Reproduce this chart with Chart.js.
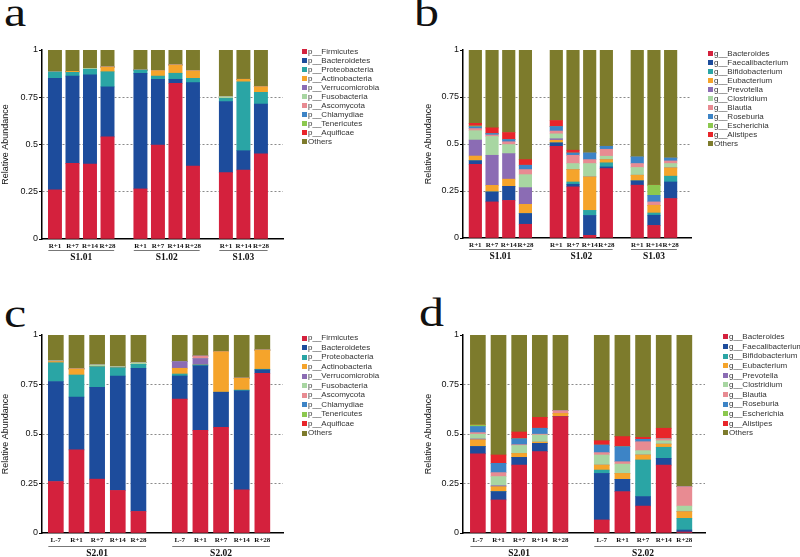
<!DOCTYPE html>
<html>
<head>
<meta charset="utf-8">
<script src="https://cdn.jsdelivr.net/npm/chart.js@4.4.1/dist/chart.umd.min.js"></script>
<style>
  body { margin: 0; background: #fff; width: 800px; height: 557px; position: relative; overflow: hidden; font-family: "Liberation Sans", Arial, sans-serif; }
  canvas { position: absolute; }
  .letter { position: absolute; font-family: "Liberation Serif", "Times New Roman", serif; font-size: 40px; line-height: 1; color: #111; transform: scaleX(1.25); transform-origin: left top; }
  .legend { position: absolute; font-size: 8px; color: #333; }
  .legend div { position: relative; white-space: nowrap; padding-left: 6px; }
  .legend span { position: absolute; left: 0; width: 5px; height: 5px; }
</style>
</head>
<body>
<div class="letter" style="left:4px;top:-7px">a</div>
<div class="letter" style="left:414px;top:-7px">b</div>
<div class="letter" style="left:4px;top:294px">c</div>
<div class="letter" style="left:419px;top:293px">d</div>
<canvas id="chartA" width="400" height="270" style="left:0;top:30px"></canvas>
<canvas id="chartB" width="377" height="270" style="left:423px;top:30px"></canvas>
<canvas id="chartC" width="400" height="247" style="left:0;top:310px"></canvas>
<canvas id="chartD" width="377" height="247" style="left:423px;top:310px"></canvas>
<script>
// sample labels and groups
const s1Groups = ["S1.01", "S1.02", "S1.03"];
const s1Samples = [["R+1", "R+7", "R+14", "R+28"], ["R+1", "R+7", "R+14", "R+28"], ["R+1", "R+14", "R+28"]];
const s2Groups = ["S2.01", "S2.02"];
const s2Samples = [["L-7", "R+1", "R+7", "R+14", "R+28"], ["L-7", "R+1", "R+7", "R+14", "R+28"]];
const yTicks = [0, 0.25, 0.5, 0.75, 1];

const phylumNames = ["p__Firmicutes", "p__Bacteroidetes", "p__Proteobacteria", "p__Actinobacteria", "p__Verrucomicrobia",
  "p__Fusobacteria", "p__Ascomycota", "p__Chlamydiae", "p__Tenericutes", "p__Aquificae", "Others"];
const genusNames = ["g__Bacteroides", "g__Faecalibacterium", "g__Bifidobacterium", "g__Eubacterium", "g__Prevotella",
  "g__Clostridium", "g__Blautia", "g__Roseburia", "g__Escherichia", "g__Alistipes", "Others"];
const taxonColors = ["#d4213d", "#1d4c9c", "#2aa5a5", "#f5a42b", "#8b6cb4", "#a8d6a2", "#e88b92", "#3d84c6", "#8cc84f", "#e8252a", "#7d7b2c"];

// panel a - phylum, S1 (R+1, R+7, R+14, R+28 | R+1, R+7, R+14, R+28 | R+1, R+14, R+28)
const aFirmicutes      = [0.26, 0.40, 0.397, 0.54, 0.265, 0.497, 0.824, 0.386, 0.351, 0.365, 0.45];
const aBacteroidetes   = [0.59, 0.462, 0.471, 0.265, 0.612, 0.348, 0.021, 0.441, 0.376, 0.102, 0.264];
const aProteobacteria  = [0.034, 0.02, 0.03, 0.08, 0.017, 0.017, 0.032, 0.023, 0.017, 0.365, 0.062];
const aActinobacteria  = [0, 0.005, 0, 0.025, 0, 0.029, 0.044, 0.04, 0, 0.013, 0.03];
const aVerrucomicrobia = [0, 0, 0, 0, 0, 0, 0, 0, 0, 0, 0];
const aFusobacteria    = [0, 0, 0.005, 0, 0, 0, 0, 0, 0.009, 0, 0];
const aAscomycota      = [0, 0, 0, 0, 0, 0, 0, 0, 0, 0, 0];
const aChlamydiae      = [0, 0, 0, 0, 0, 0, 0, 0, 0, 0, 0];
const aTenericutes     = [0, 0, 0, 0, 0, 0, 0, 0, 0, 0, 0];
const aAquificae       = [0, 0, 0, 0, 0, 0, 0, 0, 0, 0, 0];
const aOthers          = [0.116, 0.113, 0.097, 0.09, 0.106, 0.109, 0.079, 0.11, 0.247, 0.155, 0.194];

// panel b - genus, S1
const bBacteroides      = [0.392, 0.192, 0.20, 0.073, 0.488, 0.272, 0.014, 0.369, 0.281, 0.067, 0.21];
const bFaecalibacterium = [0.019, 0.053, 0.075, 0.057, 0.018, 0.014, 0.106, 0.009, 0.023, 0.054, 0.088];
const bBifidobacterium  = [0, 0, 0, 0, 0, 0.012, 0.027, 0.022, 0, 0.012, 0.031];
const bEubacterium      = [0.025, 0.035, 0.038, 0.049, 0.014, 0.066, 0.178, 0.017, 0.03, 0.041, 0.044];
const bPrevotella       = [0.085, 0.16, 0.136, 0.089, 0.008, 0, 0, 0, 0, 0, 0];
const bClostridium      = [0.05, 0.10, 0.048, 0.069, 0.026, 0.032, 0.071, 0.018, 0.041, 0, 0.023];
const bBlautia          = [0.011, 0.008, 0.015, 0.027, 0.015, 0.044, 0.021, 0.037, 0.021, 0.018, 0.014];
const bRoseburia        = [0.01, 0.008, 0.012, 0.023, 0.024, 0.012, 0.036, 0.016, 0.036, 0.035, 0.016];
const bEscherichia      = [0.004, 0, 0, 0, 0, 0, 0, 0, 0, 0.054, 0];
const bAlistipes        = [0.014, 0.03, 0.037, 0.03, 0.032, 0.015, 0, 0, 0, 0, 0];
const bOthers           = [0.39, 0.414, 0.439, 0.583, 0.375, 0.533, 0.547, 0.512, 0.568, 0.719, 0.574];

// panel c - phylum, S2 (L-7, R+1, R+7, R+14, R+28 | L-7, R+1, R+7, R+14, R+28)
const cFirmicutes      = [0.26, 0.42, 0.272, 0.215, 0.109, 0.676, 0.518, 0.534, 0.218, 0.807];
const cBacteroidetes   = [0.505, 0.266, 0.464, 0.578, 0.723, 0.117, 0.326, 0.177, 0.50, 0.017];
const cProteobacteria  = [0.095, 0.112, 0.104, 0.042, 0.02, 0.01, 0.005, 0, 0.004, 0.003];
const cActinobacteria  = [0.006, 0.031, 0, 0, 0, 0.029, 0, 0.205, 0.06, 0.097];
const cVerrucomicrobia = [0, 0, 0, 0, 0, 0.034, 0.032, 0, 0, 0];
const cFusobacteria    = [0.003, 0, 0.009, 0.005, 0.008, 0, 0, 0, 0, 0];
const cAscomycota      = [0, 0, 0, 0, 0, 0, 0.013, 0, 0, 0];
const cChlamydiae      = [0, 0, 0, 0, 0, 0, 0, 0, 0, 0];
const cTenericutes     = [0, 0, 0, 0, 0, 0, 0, 0, 0, 0];
const cAquificae       = [0, 0, 0, 0, 0, 0, 0, 0, 0, 0];
const cOthers          = [0.131, 0.171, 0.151, 0.16, 0.14, 0.134, 0.106, 0.084, 0.218, 0.076];

// panel d - genus, S2
const dBacteroides      = [0.40, 0.167, 0.343, 0.411, 0.588, 0.066, 0.209, 0.136, 0.343, 0.005];
const dFaecalibacterium = [0.037, 0.042, 0.039, 0.042, 0, 0.235, 0.062, 0.048, 0.034, 0.01];
const dBifidobacterium  = [0, 0, 0, 0, 0, 0.017, 0, 0.185, 0.056, 0.059];
const dEubacterium      = [0.034, 0.025, 0.02, 0.006, 0.016, 0.025, 0.03, 0.025, 0.016, 0.034];
const dPrevotella       = [0.004, 0.005, 0, 0, 0, 0, 0, 0, 0, 0];
const dClostridium      = [0.024, 0.046, 0.04, 0.036, 0, 0.051, 0.047, 0.022, 0.017, 0.028];
const dBlautia          = [0.008, 0.02, 0.004, 0.004, 0.014, 0.012, 0.012, 0.045, 0.01, 0.098];
const dRoseburia        = [0.031, 0.047, 0.03, 0.03, 0, 0.038, 0.076, 0.012, 0, 0];
const dEscherichia      = [0.008, 0, 0, 0, 0, 0, 0, 0, 0, 0];
const dAlistipes        = [0, 0.042, 0.034, 0.055, 0, 0.022, 0.051, 0.01, 0.053, 0];
const dOthers           = [0.454, 0.606, 0.49, 0.416, 0.382, 0.534, 0.513, 0.517, 0.471, 0.766];

// build one stacked panel; box holds the canvas and plot area in page pixels
function makePanel(id, box, groups, samples, names, series) {
  const pos = [], labels = [], spans = [];
  samples.forEach((grp, g) => {
    const start = g * box.step;
    grp.forEach((s, i) => { pos.push(start + i); labels.push(s); });
    spans.push([start, start + grp.length - 1]);
  });

  const datasets = names.map((n, k) => ({
    label: n,
    data: series[k].map((v, i) => ({ x: pos[i], y: v })),
    backgroundColor: taxonColors[k],
    borderWidth: 0,
    barThickness: box.bar
  }));

  // underline + group name below the sample labels
  const groupPlugin = {
    id: "groupLabels",
    afterDraw(chart) {
      const { ctx, chartArea, scales } = chart;
      ctx.save();
      spans.forEach((sp, g) => {
        const x1 = scales.x.getPixelForValue(sp[0]) - box.bar / 2;
        const x2 = scales.x.getPixelForValue(sp[1]) + box.bar / 2;
        const yl = chartArea.bottom + box.lineGap;
        ctx.strokeStyle = "#777";
        ctx.lineWidth = 1;
        ctx.beginPath();
        ctx.moveTo(x1, yl + 0.5);
        ctx.lineTo(x2, yl + 0.5);
        ctx.stroke();
        ctx.fillStyle = "#111";
        ctx.font = "bold 9.5px 'Liberation Serif'";
        ctx.textAlign = "center";
        ctx.textBaseline = "middle";
        ctx.fillText(groups[g], (x1 + x2) / 2, chartArea.bottom + box.textGap);
      });
      ctx.restore();
    }
  };

  new Chart(document.getElementById(id), {
    type: "bar",
    data: { datasets },
    options: {
      responsive: false,
      animation: false,
      devicePixelRatio: 1,
      layout: { padding: { top: box.plotTop - box.top, right: box.left + box.width - box.plotRight, left: 0, bottom: 0 } },
      plugins: { legend: { display: false }, tooltip: { enabled: false } },
      scales: {
        x: {
          type: "linear",
          stacked: true,
          offset: false,
          min: box.xMin,
          max: box.xMax,
          grid: { display: false, drawTicks: false, offset: false },
          border: { color: "#000", width: 1.5 },
          afterBuildTicks: s => { s.ticks = pos.map(v => ({ value: v })); },
          afterFit: s => { s.height = box.top + box.height - box.plotBottom; },
          ticks: {
            autoSkip: false,
            maxRotation: 0,
            padding: 3,
            color: "#111",
            font: { family: "Liberation Serif", weight: "bold", size: 7 },
            callback: (v, i) => labels[i]
          }
        },
        y: {
          stacked: true,
          min: 0,
          max: 1,
          afterBuildTicks: s => { s.ticks = yTicks.map(v => ({ value: v })); },
          afterFit: s => { s.width = box.plotLeft - box.left; },
          ticks: { padding: 1, color: "#111", font: { family: "Liberation Sans", size: 9 }, callback: v => String(v) },
          grid: {
            color: c => (c.tick && c.tick.value > 0 && c.tick.value < 1) ? "#8a8a8a" : "rgba(0,0,0,0)",
            tickColor: "#000",
            tickLength: 3,
            lineWidth: 1
          },
          border: { color: "#000", width: 1.5, dash: [2, 2] },
          title: { display: true, text: "Relative Abundance", color: "#111", font: { family: "Liberation Sans", size: 9 }, padding: 0 }
        }
      }
    },
    plugins: [groupPlugin]
  });
}

// html legend to the right of each plot
function makeLegend(x, yFirst, step, names) {
  const el = document.createElement("div");
  el.className = "legend";
  el.style.left = x + "px";
  el.style.top = (yFirst - step / 2) + "px";
  names.forEach((n, k) => {
    const row = document.createElement("div");
    row.style.height = step + "px";
    row.style.lineHeight = step + "px";
    const sq = document.createElement("span");
    sq.style.background = taxonColors[k];
    sq.style.top = ((step - 5) / 2) + "px";
    row.appendChild(sq);
    row.appendChild(document.createTextNode(n));
    el.appendChild(row);
  });
  document.body.appendChild(el);
}

makePanel("chartA",
  { left: 0, top: 30, width: 400, height: 270, plotLeft: 42, plotRight: 283, plotTop: 50, plotBottom: 239,
    step: 4.88, bar: 13.3, xMin: -0.74, xMax: 13.02, lineGap: 11, textGap: 19 },
  s1Groups, s1Samples, phylumNames,
  [aFirmicutes, aBacteroidetes, aProteobacteria, aActinobacteria, aVerrucomicrobia, aFusobacteria,
   aAscomycota, aChlamydiae, aTenericutes, aAquificae, aOthers]);

makePanel("chartB",
  { left: 423, top: 30, width: 377, height: 270, plotLeft: 463, plotRight: 691, plotTop: 50, plotBottom: 238,
    step: 4.85, bar: 12.5, xMin: -0.74, xMax: 12.92, lineGap: 11, textGap: 19 },
  s1Groups, s1Samples, genusNames,
  [bBacteroides, bFaecalibacterium, bBifidobacterium, bEubacterium, bPrevotella, bClostridium,
   bBlautia, bRoseburia, bEscherichia, bAlistipes, bOthers]);

makePanel("chartC",
  { left: 0, top: 310, width: 400, height: 247, plotLeft: 42, plotRight: 283, plotTop: 335, plotBottom: 533,
    step: 6, bar: 15, xMin: -0.67, xMax: 11.0, lineGap: 13, textGap: 21 },
  s2Groups, s2Samples, phylumNames,
  [cFirmicutes, cBacteroidetes, cProteobacteria, cActinobacteria, cVerrucomicrobia, cFusobacteria,
   cAscomycota, cChlamydiae, cTenericutes, cAquificae, cOthers]);

makePanel("chartD",
  { left: 423, top: 310, width: 377, height: 247, plotLeft: 463, plotRight: 705, plotTop: 335, plotBottom: 533,
    step: 6, bar: 15, xMin: -0.72, xMax: 11.0, lineGap: 13, textGap: 21 },
  s2Groups, s2Samples, genusNames,
  [dBacteroides, dFaecalibacterium, dBifidobacterium, dEubacterium, dPrevotella, dClostridium,
   dBlautia, dRoseburia, dEscherichia, dAlistipes, dOthers]);

makeLegend(302, 51, 9, phylumNames);
makeLegend(708, 53, 9, genusNames);
makeLegend(302, 338, 9.5, phylumNames);
makeLegend(723, 337, 9.6, genusNames);
</script>
</body>
</html>
